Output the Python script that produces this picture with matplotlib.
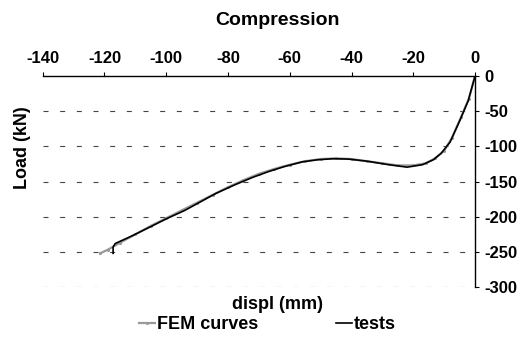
import matplotlib
matplotlib.use('Agg')
import matplotlib.pyplot as plt

plt.rcParams['font.family'] = ['Liberation Sans', 'DejaVu Sans']
plt.rcParams['font.weight'] = 'bold'
plt.rcParams['axes.unicode_minus'] = False

# test curve
test_x = [0, -2.2, -4.9, -8.1, -11, -13.5, -17, -22, -28, -35, -41, -46, -51, -56,
          -62, -67, -72, -78, -84, -89, -94, -100, -105, -111, -116.5, -117.2, -117.2]
test_y = [0, -35, -63, -94, -110, -119, -126, -129.5, -126, -121, -118, -117.5, -119, -122,
          -129, -136, -144, -155, -167, -179, -191, -203, -214, -227, -238, -243, -252]

# FEM curve
fem_x = [0, -2, -4.5, -7.5, -10, -13, -16, -20, -25, -30, -35, -40, -45, -50, -55,
         -60, -65, -70, -75, -80, -85, -90, -95, -100, -105, -110, -115, -119, -121.4]
fem_y = [0, -32, -58, -88, -106, -117, -124, -127, -127, -124, -121, -118, -117, -118, -121,
         -126, -132, -139, -148, -158, -169, -180, -191, -202, -213, -225, -237, -247, -252]

x_ticks = [-140, -120, -100, -80, -60, -40, -20, 0]
y_ticks = [0, -50, -100, -150, -200, -250, -300]

fig = plt.figure(figsize=(5.29, 3.41), dpi=100)
ax = fig.add_axes([0.0807, 0.158, 0.8173, 0.619])

# dashed horizontal grid
for yv in y_ticks[1:]:
    ax.plot([-140, 0], [yv, yv], color='#444444', lw=0.8, dashes=(4.5, 10.5), zorder=1)

fem_line, = ax.plot(fem_x, fem_y, color='#999999', lw=1.6, marker='.', markersize=2.5, zorder=2)
test_line, = ax.plot(test_x, test_y, color='black', lw=1.2, zorder=3)

ax.set_xlim(-140, 0)
ax.set_ylim(-300, 0)
ax.set_xticks(x_ticks)
ax.set_yticks(y_ticks)

ax.xaxis.tick_top()
ax.yaxis.tick_right()
ax.spines['left'].set_visible(False)
ax.spines['bottom'].set_visible(False)
ax.spines['top'].set_linewidth(1.0)
ax.spines['right'].set_linewidth(1.0)
ax.tick_params(axis='x', direction='out', length=3, pad=4, labelsize=12)
ax.tick_params(axis='y', direction='out', length=3, pad=4, labelsize=12)
ax.patch.set_visible(False)

fig.text(0.524, 0.94, 'Compression', ha='center', va='center', fontsize=14, fontweight='bold')
fig.text(0.524, 0.108, 'displ (mm)', ha='center', va='center', fontsize=13, fontweight='bold')
fig.text(0.042, 0.566, 'Load (kN)', ha='center', va='center', rotation=90, fontsize=13, fontweight='bold')

fig.legend([fem_line, test_line], ['FEM curves', 'tests'], loc='center',
           bbox_to_anchor=(0.505, 0.048), ncol=2, frameon=False, handlelength=0.9,
           handletextpad=0.1, columnspacing=4.3, prop={'size': 13, 'weight': 'bold'})

fig.savefig('out.png', dpi=100)
